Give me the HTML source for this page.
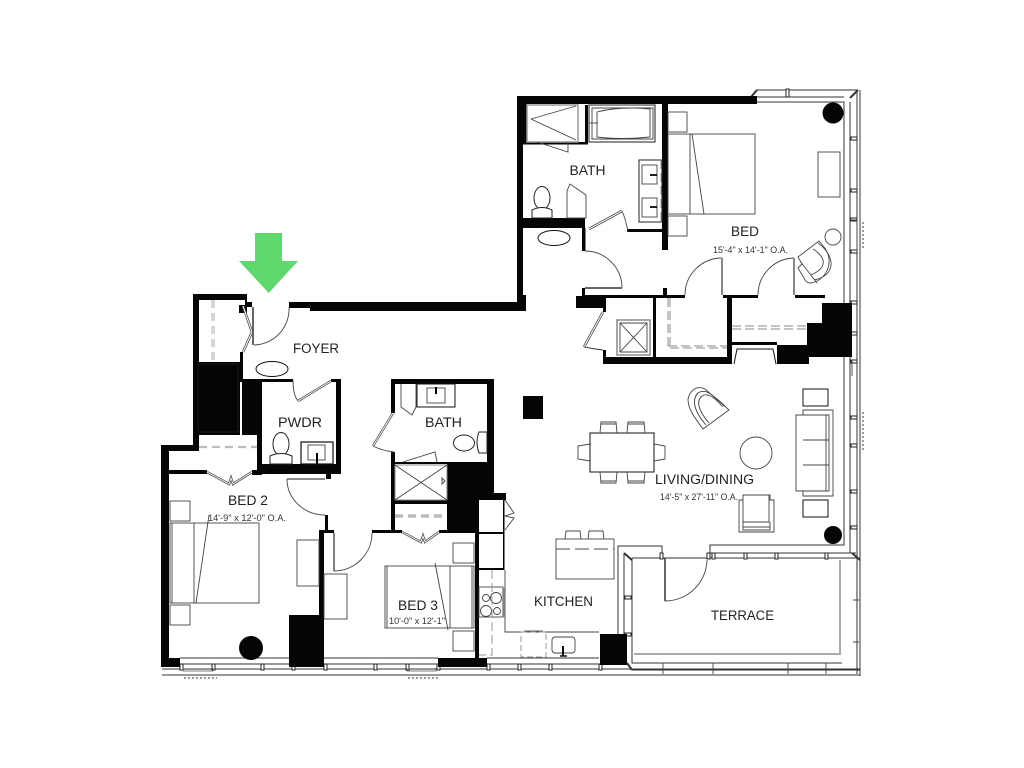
<!DOCTYPE html>
<html><head><meta charset="utf-8"><style>
html,body{margin:0;padding:0;background:#fff}
svg{display:block}
text{font-family:"Liberation Sans",sans-serif;fill:#222}
.t{font-size:13.5px}.s{font-size:9.5px;fill:#333}
.l{fill:none;stroke:#111;stroke-width:1}
.g{fill:none;stroke:#444;stroke-width:.9}
.f{fill:#fff;stroke:#222;stroke-width:1}
.d{fill:none;stroke:#999;stroke-width:1;stroke-dasharray:9 4}
.dd{fill:none;stroke:#bbb;stroke-width:2.2;stroke-dasharray:8 5}
.gb{fill:none;stroke:#aaa;stroke-width:2}
</style></head><body>
<svg width="1024" height="768" viewBox="0 0 1024 768" xmlns="http://www.w3.org/2000/svg">
<rect width="1024" height="768" fill="#fff"/>
<!-- arrow -->
<path d="M255 233H282V261H298L268.700 293L239 261H255Z" fill="#5fd96e"/>

<!-- exterior envelope lines -->
<g class="l" style="stroke:#333">
<path d="M757 97H844M757 90H858M757 102H844V545H710V553H856M850 102V553M857 92V674M860 90V676"/>
<path d="M618 634V546H662V558M624 634V553M632 558V663H842M632 558H860M632 670H860M162 669H860M162 675H860M180 658H294M180 664H294M324 658H438M324 664H438M487 658H599M487 664H599"/>
</g>
<path d="M757 90L751 97M858 90L850 98M852 553L860 560M624 553L632 560M627 663L632 670" stroke="#333" stroke-width="2" fill="none"/>
<!-- mullions -->
<g fill="#fff" stroke="#222" stroke-width="1">
<rect x="851" y="137" width="6" height="3"/><rect x="851" y="189" width="6" height="3"/><rect x="851" y="218" width="6" height="3"/><rect x="851" y="250" width="6" height="3"/><rect x="851" y="301" width="6" height="3"/><rect x="851" y="332" width="6" height="3"/><rect x="851" y="360" width="6" height="3"/><rect x="851" y="416" width="6" height="3"/><rect x="851" y="444" width="6" height="3"/><rect x="851" y="490" width="6" height="3"/><rect x="851" y="526" width="6" height="3"/>
<rect x="660" y="553" width="3" height="6"/><rect x="707" y="553" width="3" height="6"/><rect x="712" y="553" width="3" height="6"/><rect x="744" y="553" width="3" height="6"/><rect x="775" y="553" width="3" height="6"/><rect x="825" y="553" width="3" height="6"/>
<rect x="625" y="596" width="6" height="3"/><rect x="625" y="633" width="6" height="3"/>
<rect x="180" y="664" width="3" height="6"/><rect x="212" y="664" width="3" height="6"/><rect x="261" y="664" width="3" height="6"/><rect x="292" y="664" width="3" height="6"/><rect x="324" y="664" width="3" height="6"/><rect x="374" y="664" width="3" height="6"/><rect x="406" y="664" width="3" height="6"/><rect x="437" y="664" width="3" height="6"/><rect x="487" y="664" width="3" height="6"/><rect x="518" y="664" width="3" height="6"/><rect x="549" y="664" width="3" height="6"/><rect x="599" y="664" width="3" height="6"/>
<rect x="786" y="89" width="3" height="8"/>
</g>
<path d="M663 663V674M713 663V674M788 663V674M826 663V674M853 600H859M853 642H859M852 360V376M852 220H857V252" stroke="#444" fill="none" stroke-width=".9"/>
<path d="M840 560V655M634 654H840" class="gb"/>
<path d="M863 222V250M863 412V450M184 678H217M408 678H440" stroke="#999" stroke-width="2" stroke-dasharray="2 2" fill="none"/>
<path d="M183 668V671H213V668M407 668V671H436V668" stroke="#555" stroke-width=".8" fill="none"/>

<!-- black walls -->
<g fill="#050505">
<path d="M517 96H757V104H527V142H523V295H526V311H510V302H517Z"/>
<rect x="523" y="142" width="65" height="2.500"/>
<rect x="585" y="105" width="3" height="38"/>
<rect x="662" y="104" width="6" height="146"/>
<rect x="523" y="218" width="62" height="10"/>
<rect x="582" y="228" width="3.500" height="23"/>
<rect x="627" y="229" width="36" height="3"/>
<path d="M289 302H310V302H510V311H310V308H289Z"/>
<!-- closet + foyer left -->
<path d="M193 294H247V302H252V307H247V313H239V305H245V300H199V362H193Z"/>
<rect x="240" y="352" width="3" height="30"/>
<rect x="243" y="379" width="50" height="3"/>
<rect x="193" y="362" width="47" height="73"/>
<rect x="242" y="382" width="20" height="53"/>
<rect x="193" y="435" width="6" height="16"/>
<rect x="161" y="445" width="38" height="6"/>
<rect x="161" y="445" width="8" height="222"/>
<rect x="161" y="658" width="19" height="9"/>
<rect x="169" y="470" width="38" height="4"/>
<rect x="252" y="470" width="10" height="5"/>
<rect x="257" y="435" width="5" height="38"/>
<rect x="262" y="464" width="79" height="10"/>
<rect x="336" y="379" width="5" height="95"/>
<rect x="331" y="379" width="10" height="3"/>
<rect x="326" y="474" width="5" height="5"/>
<rect x="325" y="515" width="3" height="15"/>
<rect x="319" y="530" width="5" height="137"/>
<rect x="319" y="530" width="15" height="3"/>
<rect x="289" y="615" width="35" height="52"/>
<rect x="372" y="530" width="30" height="3"/>
<rect x="439" y="530" width="39" height="3"/>
<rect x="438" y="658" width="49" height="9"/>
<!-- centre bath -->
<rect x="391" y="379" width="103" height="5"/>
<rect x="391" y="379" width="4" height="34"/>
<rect x="391" y="452" width="4" height="81"/>
<rect x="395" y="462" width="52" height="2"/>
<rect x="395" y="500" width="52" height="4"/>
<rect x="487" y="379" width="7" height="114"/>
<rect x="447" y="462" width="47" height="31"/>
<rect x="447" y="462" width="30" height="71"/>
<path d="M477 493H506V500H479V667H475V500H477Z"/>
<rect x="478" y="532" width="26" height="2"/>
<rect x="478" y="568" width="26" height="2"/>
<rect x="503" y="500" width="1.500" height="70"/>
<!-- master closets -->
<rect x="576" y="296" width="27" height="12"/>
<rect x="585" y="295" width="100" height="3"/>
<rect x="723" y="295" width="35" height="3"/>
<rect x="795" y="295" width="30" height="3"/>
<rect x="582" y="288" width="3" height="8"/>
<rect x="663" y="288" width="4" height="8"/>
<rect x="603" y="298" width="3" height="14"/>
<rect x="603" y="350" width="3" height="8"/>
<rect x="603" y="357" width="125" height="7"/>
<rect x="653" y="298" width="3" height="60"/>
<rect x="727" y="298" width="5" height="66"/>
<rect x="732" y="342" width="45" height="3"/>
<path d="M825 295V303H852V357H809V364H777V345H807V323H822V303H825Z"/>
<rect x="600" y="634" width="27" height="31"/>
<circle cx="833" cy="113" r="10.500"/>
<circle cx="833" cy="535" r="9"/>
<circle cx="251" cy="648" r="12"/>
<rect x="523" y="396" width="20" height="23"/>
</g>
<path d="M198 364H238V432H198Z" fill="none" stroke="#333" stroke-width=".5"/>

<!-- Dashed closets -->
<path d="M212 300V362M214 300V362" class="dd" style="stroke-width:1.200"/>
<path d="M199 447H257" class="dd"/>
<path d="M395 516H447" class="dd" style="stroke-width:3.500"/>
<path d="M668 298V348H727M670 298V346M668 346H727" class="d" style="stroke:#888"/>
<path d="M732 326H806M732 329H806" class="d" style="stroke:#888"/>

<!-- Master bath -->
<rect x="527" y="105" width="51" height="37" fill="#fff" stroke="#999" stroke-width="1.500"/>
<path d="M531 119L576 106M531 119L576 140" class="g"/>
<rect x="589" y="105" width="66" height="37" fill="#fff" stroke="#444" stroke-width="1.200"/>
<path d="M592 108H653V139H592Z" class="g"/>
<path d="M597 112Q620 106 650 109V137Q620 140 597 137Z" class="g"/>
<path d="M589 123H598" stroke="#555"/>
<path d="M537 142L568 152V142" class="g"/>
<rect x="639" y="160" width="23" height="62" class="f"/>
<rect x="642" y="165" width="15" height="19" class="g"/><rect x="642" y="198" width="15" height="19" class="g"/>
<path d="M650 175H657M650 207H657" stroke="#000" stroke-width="1.800"/>
<path d="M661 160V222" class="d"/>
<ellipse cx="542" cy="198" rx="8" ry="11.500" class="f"/>
<path d="M532 218V210Q542 205 552 210V218Z" class="f"/>
<path d="M567 218V191L570 184L586 195V218Z" class="g"/>
<path d="M589 229L622 211" stroke="#333" stroke-width="2.500"/><path d="M589 229L622 211" stroke="#fff" stroke-width="1"/>
<path d="M622 211Q626 220 628 232" class="g"/>
<ellipse cx="554" cy="238" rx="16" ry="7.500" class="l"/>
<!-- master doors -->
<path d="M585 251A37 37 0 0 1 622 288" class="g"/>
<path d="M585 288H622" stroke="#333" stroke-width="2"/><path d="M585 288H622" stroke="#fff" stroke-width=".6"/>
<path d="M722 258A37 37 0 0 0 685 295M794 258A37 37 0 0 0 758 295" class="g"/>
<path d="M722 258V295M794 258V295" stroke="#888" stroke-width="2"/>
<path d="M603 312L584 347" stroke="#444" stroke-width="2.500"/><path d="M603 312L584 347" stroke="#fff" stroke-width="1"/>
<path d="M584 347Q594 349 603 350" class="g"/>
<!-- shower 2 -->
<rect x="617" y="320" width="33" height="35" fill="#fff" stroke="#888" stroke-width="1.500"/>
<path d="M620 323H647V352H620ZM620 323L647 352M647 323L620 352" class="g"/>
<path d="M734 364L737 349H773L776 364" class="l"/>
<!-- master bed -->
<rect x="668" y="134" width="87" height="80" class="g"/>
<path d="M690 134V214M692 134L704 214" class="g"/>
<rect x="668" y="112" width="19" height="20" class="g"/>
<rect x="668" y="216" width="19" height="20" class="g"/>
<rect x="818" y="152" width="22" height="45" class="g"/>
<circle cx="833" cy="237" r="8" class="g"/>
<path d="M798 257L819 241L824 247C836 262 825 282 810 283Q806 283 804 278L798 268L802 264Z" class="g"/>
<path d="M818 243C836 256 836 276 814 280M813 249C827 258 827 268 811 275M800 261L817 283" class="g"/>
<!-- Left closet bifold + entry door -->
<path d="M243 306L252 332L243 352" stroke="#444" stroke-width="2.500" fill="none"/><path d="M243 306L252 332L243 352" stroke="#fff" stroke-width="1" fill="none"/>
<path d="M253 307V345" stroke="#555" stroke-width="1.800"/>
<path d="M254 345A36 36 0 0 0 289 307" class="g"/>
<ellipse cx="272" cy="369" rx="16" ry="7.500" class="l"/>
<!-- Bifolds -->
<g fill="none">
<path d="M207 472L229 484L231 478L233 484L252 472M402 532L421 542L423 536L425 542L439 532" stroke="#444" stroke-width="2.400"/>
<path d="M207 472L229 484L231 478L233 484L252 472M402 532L421 542L423 536L425 542L439 532" stroke="#fff" stroke-width=".9"/>
</g>
<path d="M505 500L514 513L505 516L514 518L505 530" class="g"/>
<!-- PWDR -->
<path d="M293 380Q293 395 298 401" class="g"/>
<path d="M298 401L331 381" stroke="#444" stroke-width="2.300"/><path d="M298 401L331 381" stroke="#fff" stroke-width=".9"/>
<ellipse cx="281" cy="444" rx="8" ry="11.500" class="f"/>
<path d="M270 464V456Q281 451 292 456V464Z" class="f"/>
<rect x="301" y="442" width="32" height="22" fill="#fff" stroke="#111" stroke-width="1.200"/>
<rect x="308" y="445" width="17" height="15" class="g"/>
<path d="M317 453V464" stroke="#000" stroke-width="2"/>
<!-- Bed 2 door -->
<path d="M287 479H325" stroke="#444" stroke-width="2"/><path d="M287 479H325" stroke="#fff" stroke-width=".7"/>
<path d="M287 479A38 36 0 0 0 325 515" class="g"/>
<!-- Bed 2 -->
<rect x="170" y="523" width="89" height="80" class="g"/>
<path d="M172 523V603M194 523V603M209 515L196 603" class="g"/>
<rect x="170" y="501" width="20" height="20" class="g"/><rect x="170" y="605" width="20" height="20" class="g"/>
<rect x="297" y="540" width="22" height="46" class="g"/>
<!-- Bed 3 -->
<path d="M334 533V571" stroke="#555" stroke-width="1.500"/>
<path d="M334 571A38 38 0 0 0 372 533" class="g"/>
<rect x="324" y="574" width="23" height="45" class="g"/>
<rect x="385" y="566" width="89" height="62" class="g"/>
<path d="M387 566V628M450 566V628M472 566V628M435 563L448 630" class="g"/>
<rect x="453" y="543" width="21" height="20" class="g"/><rect x="453" y="631" width="21" height="20" class="g"/>
<!-- Center bath -->
<rect x="417" y="384" width="38" height="23" fill="#fff" stroke="#111" stroke-width="1"/>
<rect x="427" y="388" width="18" height="15" class="g"/>
<path d="M436 387V394" stroke="#000" stroke-width="2"/>
<path d="M401 384V407L412 415L416 407V384" class="g"/>
<path d="M393 413L373 446" stroke="#444" stroke-width="2.300"/><path d="M393 413L373 446" stroke="#fff" stroke-width=".9"/>
<path d="M373 446Q383 451 394 452" class="g"/>
<ellipse cx="464" cy="443" rx="10.500" ry="8" class="f"/>
<path d="M487 432H479Q475 442 479 453H487Z" class="f"/>
<rect x="395" y="465" width="52" height="35" fill="#fff" stroke="#888"/>
<path d="M395 465L447 500M447 465L395 500" class="g"/>
<path d="M403 462L435 452L437 462" class="g"/>
<path d="M442 478V484L445 481Z" class="g"/>
<!-- Kitchen -->
<path d="M505 570V632H599" class="g"/>
<rect x="479" y="587" width="24" height="30" class="g"/>
<path d="M504 588V617" class="gb" style="stroke-width:1"/>
<circle cx="486" cy="598" r="3.500" class="g"/><circle cx="496" cy="598" r="5.500" class="g"/>
<circle cx="486" cy="611" r="5.500" class="g"/><circle cx="497" cy="611" r="3.500" class="g"/>
<path d="M492 570V655H479" class="d"/>
<rect x="521" y="632" width="25" height="25" class="d" style="stroke-dasharray:6 3"/>
<path d="M524 631H543" stroke="#666"/>
<rect x="552" y="637" width="23" height="16" rx="3" class="g"/>
<path d="M563 646V656" stroke="#111" stroke-width="2"/><path d="M560 656H567" stroke="#111" stroke-width="1.500"/>
<rect x="556" y="539" width="58" height="40" class="g"/>
<path d="M556 549H614" class="g" style="stroke-dasharray:14 5"/>
<path d="M565 539L566 531H580L581 539M588 539L589 531H603L604 539" class="g"/>
<!-- Terrace door -->
<path d="M665 558V601" stroke="#333" stroke-width="1.500"/>
<path d="M665 601A42 42 0 0 0 707 560" class="g"/>
<!-- Living -->
<rect x="590" y="433" width="64" height="39" class="l"/>
<path d="M600 433L601 422H616L617 433M627 433L628 422H644L645 433M600 472L601 483H616L617 472M627 472L628 483H644L645 472M590 444L578 446V459L590 461M654 444L665 446V459L654 461M601 481H616M628 481H644M601 424H616M628 424H644" class="g"/>
<circle cx="756" cy="453" r="16" class="g"/>
<path d="M703 429L729 410L705 389C697 385 690 390 688 399C688 407 691 413 703 429Z" class="g"/>
<path d="M706 425C693 410 692 399 698 393C704 389 709 391 725 406M709 423C698 410 696 401 702 396C707 393 712 395 723 407" class="g"/>
<rect x="803" y="389" width="25" height="17" class="l"/><rect x="803" y="500" width="25" height="17" class="l"/>
<path d="M796 415H803V410H833V496H803V491H796Z" class="g"/>
<path d="M803 415H829V491H803M826 415V491M803 440H829M803 465H829" class="g"/>
<path d="M743 495V500H739V532H774V500H770V495ZM743 495V522H769V495M743 522V530H770V522" class="g"/>
<path d="M743 527H770" class="g"/>

<!-- labels -->
<text class="t" x="569.500" y="175" textLength="36" lengthAdjust="spacingAndGlyphs">BATH</text>
<text class="t" x="731" y="236" textLength="28" lengthAdjust="spacingAndGlyphs">BED</text>
<text class="s" x="713" y="253" textLength="75" lengthAdjust="spacingAndGlyphs">15'-4" x 14'-1" O.A.</text>
<text class="t" x="293" y="353" textLength="46" lengthAdjust="spacingAndGlyphs">FOYER</text>
<text class="t" x="278" y="427" textLength="44" lengthAdjust="spacingAndGlyphs">PWDR</text>
<text class="t" x="425" y="427" textLength="37" lengthAdjust="spacingAndGlyphs">BATH</text>
<text class="t" x="228" y="505" textLength="40" lengthAdjust="spacingAndGlyphs">BED 2</text>
<text class="s" x="208" y="521" textLength="78" lengthAdjust="spacingAndGlyphs">14'-9" x 12'-0" O.A.</text>
<text class="t" x="398" y="610" textLength="40" lengthAdjust="spacingAndGlyphs">BED 3</text>
<text class="s" x="389" y="624" textLength="56" lengthAdjust="spacingAndGlyphs">10'-0" x 12'-1"</text>
<text class="t" x="534" y="606" textLength="59" lengthAdjust="spacingAndGlyphs">KITCHEN</text>
<text class="t" x="711" y="620" textLength="63" lengthAdjust="spacingAndGlyphs">TERRACE</text>
<text class="t" x="655" y="484" textLength="99" lengthAdjust="spacingAndGlyphs">LIVING/DINING</text>
<text class="s" x="660" y="500" textLength="78" lengthAdjust="spacingAndGlyphs">14'-5" x 27'-11" O.A.</text>
</svg>
</body></html>
